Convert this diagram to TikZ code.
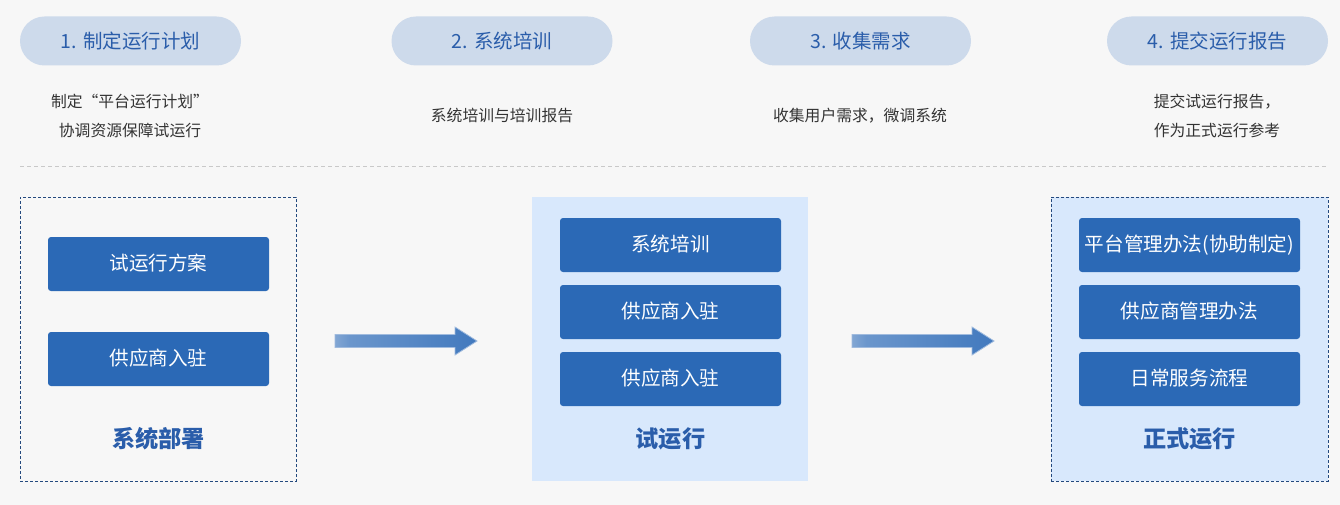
\documentclass[tikz,border=0pt]{standalone}
\usepackage{fontspec}
\newfontfamily\cjk{Noto Sans CJK SC}
\definecolor{bgc}{HTML}{F7F7F7}
\definecolor{pillfill}{HTML}{CDDAEB}
\definecolor{titleblue}{HTML}{2A5DAA}
\definecolor{blockblue}{HTML}{2B69B6}
\definecolor{stagefill}{HTML}{D8E8FC}
\definecolor{dashblue}{HTML}{23497E}
\definecolor{sepgray}{HTML}{C9C9C9}
\definecolor{desc}{HTML}{333333}
\pgfdeclarehorizontalshading{arrowshade}{100bp}{color(0bp)=(bgc); color(30bp)=(blockblue!70); color(100bp)=(blockblue)}
\tikzset{
  pill/.style={fill=pillfill, rounded corners=24.5pt, minimum width=221pt, minimum height=49pt, inner sep=0pt, text=titleblue, font=\cjk\fontsize{19.5}{21}\selectfont},
  desctext/.style={text=desc, align=center, font=\cjk\fontsize{15.8}{29}\selectfont},
  stagebox/.style={minimum width=276pt, minimum height=284pt, inner sep=0pt},
  dashedbox/.style={draw=dashblue, line width=0.9pt, dash pattern=on 3pt off 2pt},
  block/.style={fill=blockblue, rounded corners=3pt, minimum width=221pt, minimum height=54pt, inner sep=0pt, text=white, font=\cjk\fontsize{19.6}{21}\selectfont, text height=0.88em+5pt, text depth=0.12em},
  stagelabel/.style={text=titleblue, font=\cjk\bfseries\fontsize{23.2}{25}\selectfont},
  flowarrow/.style={shading=arrowshade, draw=white!55!blockblue, line width=0.8pt}
}
\begin{document}
\begin{tikzpicture}[x=1pt,y=-1pt]
\fill[bgc] (0,0) rectangle (1340,505);
\useasboundingbox (0,0) rectangle (1340,505);

% top pills
\node[pill] (p1) at (130.5,41) {1. 制定运行计划};
\node[pill] (p2) at (502,41) {2. 系统培训};
\node[pill] (p3) at (860.5,41) {3. 收集需求};
\node[pill] (p4) at (1217.5,41) {4. 提交运行报告};

% descriptions
\node[desctext] (d1) at (130,115.5) {制定“平台运行计划”\\协调资源保障试运行};
\node[desctext] (d2) at (502,116) {系统培训与培训报告};
\node[desctext] (d3) at (860,116) {收集用户需求，微调系统};
\node[desctext] (d4) at (1217,115.5) {提交试运行报告，\\作为正式运行参考};

% separator
\draw[sepgray, line width=0.8pt, dash pattern=on 4pt off 3pt] (20,166) -- (1328,166);

% stage boxes
\node[stagebox, dashedbox] (s1) at (158,339) {};
\node[stagebox, fill=stagefill] (s2) at (670,339) {};
\node[stagebox, minimum width=277pt, fill=stagefill, dashedbox] (s3) at (1189.5,339) {};

% blocks stage 1
\node[block] (a1) at (158.5,264) {试运行方案};
\node[block] (a2) at (158.5,359) {供应商入驻};
\node[stagelabel] (l1) at (158.5,439) {系统部署};

% blocks stage 2
\node[block] (b1) at (670.5,245) {系统培训};
\node[block] (b2) at (670.5,312) {供应商入驻};
\node[block] (b3) at (670.5,379) {供应商入驻};
\node[stagelabel] (l2) at (670.5,439) {试运行};

% blocks stage 3
\node[block] (c1) at (1189.5,245) {平台管理办法(协助制定)};
\node[block] (c2) at (1189.5,312) {供应商管理办法};
\node[block] (c3) at (1189.5,379) {日常服务流程};
\node[stagelabel] (l3) at (1189.5,439) {正式运行};

% arrows
\shade[flowarrow] (335,334.5) -- (455,334.5) -- (455,327) -- (477,341) -- (455,355) -- (455,347.5) -- (335,347.5) -- cycle;
\shade[flowarrow] (852,334.5) -- (972,334.5) -- (972,327) -- (994,341) -- (972,355) -- (972,347.5) -- (852,347.5) -- cycle;
\end{tikzpicture}
\end{document}
